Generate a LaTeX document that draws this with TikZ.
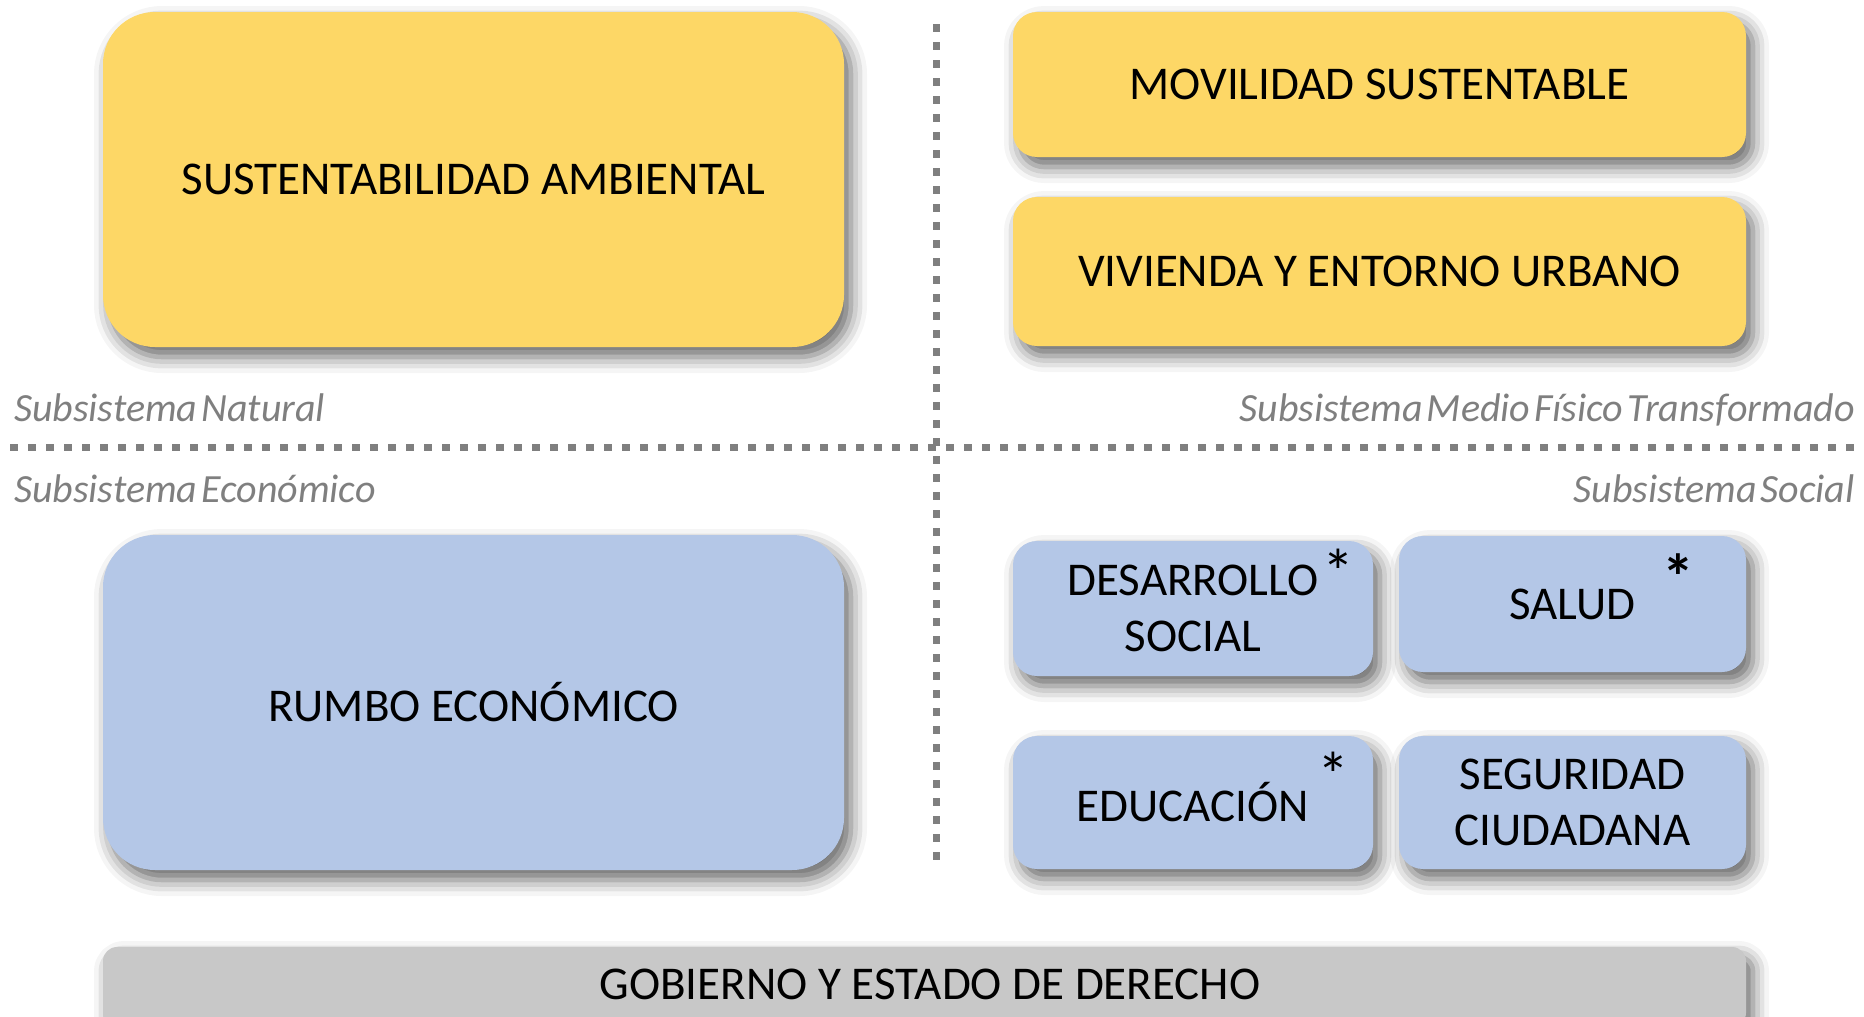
\documentclass[tikz,border=0pt]{standalone}
\usepackage{fontspec}
\setmainfont{Carlito}
\usetikzlibrary{shadows.blur}
\definecolor{boxyellow}{RGB}{253,215,102}
\definecolor{boxblue}{RGB}{180,199,231}
\definecolor{boxgray}{RGB}{200,200,200}
\definecolor{divgray}{RGB}{127,127,127}
\newcommand{\sublabelfont}{\fontsize{40}{46}\selectfont\itshape\fontdimen2\font=4pt\relax}
\tikzset{
  basebox/.style={inner sep=0pt, align=center, text=black,
    font=\fontsize{47}{56}\selectfont,
    blur shadow={shadow xshift=7pt, shadow yshift=-10pt, shadow blur radius=16pt, shadow opacity=60}},
  yellowbox/.style={basebox, fill=boxyellow},
  bluebox/.style={basebox, fill=boxblue},
  graybox/.style={basebox, fill=boxgray, rounded corners=14pt},
  bigbox/.style={rounded corners=52pt},
  smallbox/.style={rounded corners=24pt},
  sublabel/.style={inner sep=0pt, text=divgray, font=\sublabelfont},
  asterisk/.style={inner sep=0pt, font=\fontsize{64}{70}\selectfont},
  divider/.style={draw=divgray, line width=7pt, dash pattern=on 8pt off 10pt}
}
\begin{document}
\begin{tikzpicture}[x=1pt, y=-1pt]
\useasboundingbox (0,0) rectangle (1864,1017);
\clip (0,0) rectangle (1864,1017);
% dividers
\coordinate (vtop) at (936,24);
\coordinate (vbot) at (936,868);
\coordinate (hleft) at (10,447);
\coordinate (hright) at (1862,447);
\draw[divider] (hleft) -- (hright);
\draw[divider] (vtop) -- (vbot);
% top-left
\node[yellowbox, bigbox, minimum width=741pt, minimum height=335pt] (sa) at (473.5,179.5) {SUSTENTABILIDAD AMBIENTAL};
% top-right
\node[yellowbox, smallbox, minimum width=733pt, minimum height=145pt] (ms) at (1379.5,84.5) {MOVILIDAD SUSTENTABLE};
\node[yellowbox, smallbox, minimum width=733pt, minimum height=149pt] (ve) at (1379.5,271.5) {VIVIENDA Y ENTORNO URBANO};
% bottom-left
\node[bluebox, bigbox, minimum width=741pt, minimum height=335pt] (re) at (473.5,702.5) {RUMBO ECONÓMICO};
% bottom-right
\node[bluebox, smallbox, minimum width=360pt, minimum height=135pt] (ds) at (1193,608.5) {DESARROLLO\\SOCIAL};
\node[bluebox, smallbox, minimum width=347pt, minimum height=136pt] (sl) at (1572.5,604) {SALUD};
\node[bluebox, smallbox, minimum width=360pt, minimum height=133pt] (ed) at (1193,802.5) {EDUCACIÓN};
\node[bluebox, smallbox, minimum width=347pt, minimum height=133pt] (sc) at (1572.5,802.5) {SEGURIDAD\\CIUDADANA};
\node[asterisk] (a1) at (1338,572) {*};
\node[asterisk, font=\fontsize{64}{70}\selectfont\bfseries] (a2) at (1678,577) {*};
\node[asterisk] (a3) at (1333,775) {*};
% bottom bar
\node[graybox, minimum width=1643pt, minimum height=80pt] (gob) at (924.5,987) {};
\node[inner sep=0pt, font=\fontsize{47}{56}\selectfont] (gobt) at (930,984) {GOBIERNO Y ESTADO DE DERECHO};
% labels
\node[sublabel, anchor=base west] (ln) at (14,421) {Subsistema Natural};
\node[sublabel, anchor=base west] (le) at (14,502) {Subsistema Económico};
\node[sublabel, anchor=base east] (lm) at (1855,421) {Subsistema Medio Físico Transformado};
\node[sublabel, anchor=base east] (ls) at (1855,502) {Subsistema Social};
\end{tikzpicture}
\end{document}
